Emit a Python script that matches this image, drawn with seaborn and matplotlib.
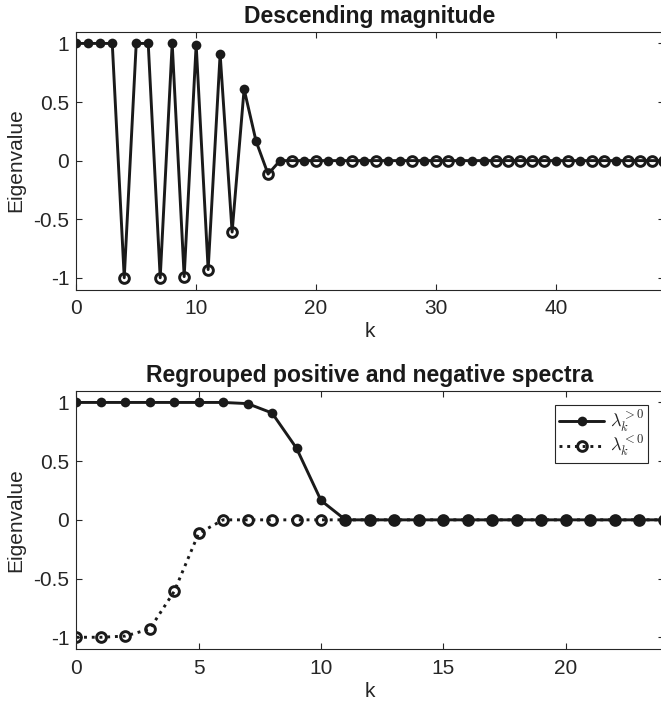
import numpy as np
import pandas as pd
import matplotlib
matplotlib.use("Agg")
import matplotlib.pyplot as plt
import seaborn as sns

# ---------------- data ----------------
# positive spectrum, sorted descending (k = 0..24)
pos_vals = [1.0, 1.0, 1.0, 1.0, 1.0, 1.0, 1.0, 0.99, 0.91, 0.61, 0.165,
            0, 0, 0, 0, 0, 0, 0, 0, 0, 0, 0, 0, 0, 0]
# negative spectrum, sorted by magnitude (k = 0..24)
neg_vals = [-1.0, -1.0, -0.99, -0.93, -0.61, -0.115,
            0, 0, 0, 0, 0, 0, 0, 0, 0, 0, 0, 0, 0, 0, 0, 0, 0, 0, 0]
# sign of each eigenvalue in descending-magnitude order (k = 0..49)
top_sign = list("PPPPNPPNPNPNPNPPN"
                "PNPNPPNPNPPNPNNPPPNNNNNPNPNNPNNNN")

top_xticks = [0, 10, 20, 30, 40]
bot_xticks = [0, 5, 10, 15, 20]
yticks = [-1, -0.5, 0, 0.5, 1]
ytick_labels = ["-1", "-0.5", "0", "0.5", "1"]

titles = ["Descending magnitude", "Regrouped positive and negative spectra"]
legend_labels = [r"$\lambda_k^{>0}$", r"$\lambda_k^{<0}$"]

# ---------------- build tables ----------------
pi, ni = iter(pos_vals), iter(neg_vals)
top_vals = [next(pi) if s == "P" else next(ni) for s in top_sign]
top = pd.DataFrame({"k": np.arange(len(top_vals)), "val": top_vals, "sign": top_sign})
pos = pd.DataFrame({"k": np.arange(len(pos_vals)), "val": pos_vals})
neg = pd.DataFrame({"k": np.arange(len(neg_vals)), "val": neg_vals})

# ---------------- style ----------------
sns.set_theme(style="ticks")
plt.rcParams["font.family"] = ["Liberation Sans", "DejaVu Sans"]
plt.rcParams["mathtext.fontset"] = "cm"
plt.rcParams["axes.unicode_minus"] = False

TXT = "#262626"
FS = 15

fig = plt.figure(figsize=(6.61, 7.10), dpi=100)
W = 661.0
H = 710.0
left = 76.3 / W
width = (663.6 - 76.3) / W
ax1 = fig.add_axes([left, 1 - 289.5 / H, width, (289.5 - 31.7) / H])
ax2 = fig.add_axes([left, 1 - 649.0 / H, width, (649.0 - 390.7) / H])

filled = dict(marker="o", markersize=7.0, markerfacecolor="k",
              markeredgecolor="k", markeredgewidth=0)
hollow = dict(marker="o", markersize=7.0, markerfacecolor="none",
              markeredgecolor="k", markeredgewidth=2.1)

# ---- top panel ----
sns.lineplot(data=top, x="k", y="val", color="k", lw=2.1, ax=ax1, sort=False)
sns.lineplot(data=top[top["sign"] == "P"], x="k", y="val", color="k",
             linestyle="none", ax=ax1, sort=False, **filled)
sns.lineplot(data=top[top["sign"] == "N"], x="k", y="val", color="k",
             linestyle="none", ax=ax1, sort=False, **hollow)
ax1.set_xlim(0, 49)
ax1.set_xticks(top_xticks)

# ---- bottom panel ----
sns.lineplot(data=pos, x="k", y="val", color="k", lw=2.1, ax=ax2,
             label=legend_labels[0], **filled)
sns.lineplot(data=neg, x="k", y="val", color="k", lw=2.1, linestyle=":",
             ax=ax2, label=legend_labels[1], **hollow)
ax2.set_xlim(0, 24)
ax2.set_xticks(bot_xticks)

for ax, t in zip([ax1, ax2], titles):
    ax.set_ylim(-1.1, 1.1)
    ax.set_yticks(yticks)
    ax.set_yticklabels(ytick_labels)
    ax.set_xticklabels([str(v) for v in ax.get_xticks().astype(int)])
    ax.set_title(t, fontsize=16.5, fontweight="bold", color="k", pad=6)
    ax.set_xlabel("k", fontsize=FS, color=TXT, labelpad=3)
    ax.set_ylabel("Eigenvalue", fontsize=FS, color=TXT, labelpad=6)
    ax.tick_params(direction="in", top=True, right=True, length=4.5,
                   width=0.8, colors=TXT, labelsize=FS)
    ax.tick_params(axis="x", pad=7)
    ax.tick_params(axis="y", pad=5)
    for sp in ax.spines.values():
        sp.set_visible(True)
        sp.set_color(TXT)
        sp.set_linewidth(0.8)
    ax.grid(False)

leg = ax2.legend(loc="upper right", bbox_to_anchor=(0.9735, 0.9446),
                 borderaxespad=0, fontsize=13, frameon=True, fancybox=False,
                 framealpha=1, edgecolor=TXT, handlelength=2.5,
                 handletextpad=0.3, labelspacing=0.0, borderpad=0.2)
leg.get_frame().set_linewidth(0.8)

fig.savefig("out.png", dpi=100)
